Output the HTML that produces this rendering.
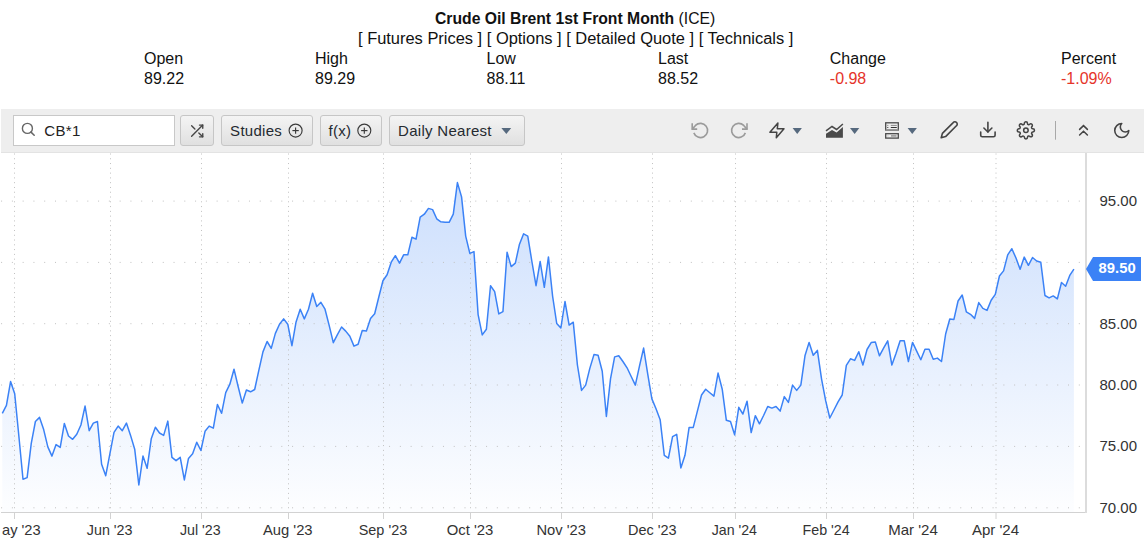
<!DOCTYPE html>
<html><head><meta charset="utf-8">
<style>
*{box-sizing:border-box}
html,body{margin:0;padding:0;background:#fff;width:1144px;height:542px;overflow:hidden;font-family:"Liberation Sans",sans-serif;color:#111}
.t{position:absolute;white-space:nowrap;font-size:16px;line-height:20px}
.b{font-weight:bold}
.red{color:#e5342a}
#tb{position:absolute;left:1px;top:109px;width:1143px;height:44px;background:#eeeeee;border-bottom:1px solid #e3e3e3}
.btn{position:absolute;top:115px;height:31px;border:1px solid #c6c6c6;border-radius:3px;background:linear-gradient(#f4f4f4,#e0e0e0);font-size:15px;letter-spacing:0.28px;line-height:29.5px;color:#252a30;white-space:nowrap}
.ax{font-family:"Liberation Sans",sans-serif;font-size:15px;fill:#333}
.pl{font-family:"Liberation Sans",sans-serif;font-size:14.8px;font-weight:bold;fill:#fff}
svg{display:block}
.ic{position:absolute;left:0;top:0;overflow:visible}
</style></head><body>
<div class="t" style="left:435.3px;top:8.5px;transform:scaleX(0.982);transform-origin:0 0"><span class="b">Crude Oil Brent 1st Front Month</span> (ICE)</div>
<div class="t" style="left:357.8px;top:29.2px;transform:scaleX(1.027);transform-origin:0 0">[ Futures Prices ] [ Options ] [ Detailed Quote ] [ Technicals ]</div>
<div class="t" style="left:144px;top:49.2px">Open</div>
<div class="t" style="left:315px;top:49.2px">High</div>
<div class="t" style="left:486.5px;top:49.2px">Low</div>
<div class="t" style="left:658px;top:49.2px">Last</div>
<div class="t" style="left:829.8px;top:49.2px">Change</div>
<div class="t" style="left:1061px;top:49.2px">Percent</div>
<div class="t" style="left:144px;top:68.6px">89.22</div>
<div class="t" style="left:315px;top:68.6px">89.29</div>
<div class="t" style="left:486.5px;top:68.6px">88.11</div>
<div class="t" style="left:658px;top:68.6px">88.52</div>
<div class="t red" style="left:829.8px;top:68.6px">-0.98</div>
<div class="t red" style="left:1061px;top:68.6px">-1.09%</div>

<div id="tb"></div>
<div style="position:absolute;left:13px;top:115px;width:162px;height:31px;background:#fff;border:1px solid #c8c8c8"></div>
<div class="t" style="left:44.3px;top:120.7px;font-size:15px;letter-spacing:0.35px;color:#222">CB*1</div>
<div class="btn" style="left:180px;width:34px"></div>
<div class="btn" style="left:220.5px;width:92px"><span style="position:absolute;left:8.6px">Studies</span></div>
<div class="btn" style="left:319.5px;width:62px"><span style="position:absolute;left:8px">f(x)</span></div>
<div class="btn" style="left:388.5px;width:136.5px"><span style="position:absolute;left:8.6px">Daily Nearest</span></div>

<svg class="ic" width="1144" height="160" viewBox="0 0 1144 160">
<!-- search -->
<circle cx="27.4" cy="128.4" r="5" fill="none" stroke="#666" stroke-width="1.4"/>
<line x1="31" y1="132.1" x2="34.2" y2="135.3" stroke="#666" stroke-width="1.5" stroke-linecap="round"/>
<!-- shuffle -->
<g transform="translate(189,123.1) scale(0.655)" fill="none" stroke="#454545" stroke-width="2.1" stroke-linecap="round" stroke-linejoin="round"><polyline points="16 3 21 3 21 8"/><line x1="4" y1="20" x2="21" y2="3"/><polyline points="21 16 21 21 16 21"/><line x1="15" y1="15" x2="21" y2="21"/><line x1="4" y1="4" x2="9" y2="9"/></g>
<!-- plus circles -->
<g fill="none" stroke="#3a3a3a" stroke-width="1.15"><circle cx="295.6" cy="130.6" r="6.5"/><line x1="295.6" y1="127.4" x2="295.6" y2="133.8"/><line x1="292.4" y1="130.6" x2="298.8" y2="130.6"/>
<circle cx="364.3" cy="130.6" r="6.5"/><line x1="364.3" y1="127.4" x2="364.3" y2="133.8"/><line x1="361.1" y1="130.6" x2="367.5" y2="130.6"/></g>
<!-- dropdown triangles -->
<g fill="#56697e"><path d="M501.4,128 L511.2,128 L506.3,134 Z"/><path d="M792.6,128.1 L801.9,128.1 L797.25,134.1 Z"/><path d="M850,128.1 L859.3,128.1 L854.65,133.9 Z"/><path d="M907.6,128.1 L916.9,128.1 L912.25,133.9 Z"/></g>
<!-- undo / redo -->
<g fill="none" stroke="#9b9b9b" stroke-width="1.6" stroke-linejoin="miter">
<path d="M693.83,132.88 A7.1,7.1 0 1 0 695.48,125.43 L692.2,129.1"/><path d="M692.2,123.3 L692.2,129.1 L697.2,129.1"/>
<path d="M745.37,132.88 A7.1,7.1 0 1 1 743.72,125.43 L747,129.1"/><path d="M747,123.3 L747,129.1 L742,129.1"/>
</g>
<!-- lightning -->
<path d="M777.9,122.9 L769.9,132.2 L776.8,132.2 L776.3,137.8 L784,128.7 L777.3,128.7 Z" fill="none" stroke="#444" stroke-width="1.5" stroke-linejoin="round"/>
<!-- area chart icon -->
<path d="M826,137.8 L826,133.8 L832,129.9 L836.6,132.6 L842.9,127.1 L842.9,137.8 Z" fill="#4a4a4a"/>
<path d="M826,130.8 L832,126.5 L836.6,129.5 L842.9,124" fill="none" stroke="#4a4a4a" stroke-width="1.5"/>
<!-- layout icon -->
<rect x="885.7" y="122.8" width="12.6" height="7.2" fill="none" stroke="#4a4a4a" stroke-width="1.3"/>
<line x1="885.7" y1="129.8" x2="898.3" y2="129.8" stroke="#999" stroke-width="1.4"/>
<rect x="885.7" y="133.7" width="12.6" height="4.4" fill="none" stroke="#4a4a4a" stroke-width="1.3"/>
<g stroke-width="1"><line x1="887.3" y1="125.4" x2="888.3" y2="125.4" stroke="#777"/><line x1="890.8" y1="125.4" x2="896.8" y2="125.4" stroke="#888"/><line x1="887.3" y1="127.5" x2="888.3" y2="127.5" stroke="#333"/><line x1="890.8" y1="127.5" x2="896.8" y2="127.5" stroke="#333"/><line x1="887.6" y1="135.9" x2="888.3" y2="135.9" stroke="#999"/><line x1="891" y1="135.9" x2="896.5" y2="135.9" stroke="#9a9a9a" stroke-width="1.6"/></g>
<!-- pencil -->
<g transform="translate(939.6,120.2) scale(0.8)" fill="none" stroke="#444" stroke-width="2" stroke-linecap="round" stroke-linejoin="round"><path d="M17 3a2.85 2.83 0 1 1 4 4L7.5 20.5 2 22l1.5-5.5Z"/></g>
<!-- download -->
<g transform="translate(978.3,120) scale(0.8)" fill="none" stroke="#444" stroke-width="2" stroke-linecap="round" stroke-linejoin="round"><path d="M21 15v4a2 2 0 0 1-2 2H5a2 2 0 0 1-2-2v-4"/><polyline points="7 10 12 15 17 10"/><line x1="12" y1="15" x2="12" y2="3"/></g>
<!-- gear -->
<g transform="translate(1016.54,120.99) scale(0.78)" fill="none" stroke="#444" stroke-width="1.95" stroke-linecap="round" stroke-linejoin="round"><path d="M19.4 15a1.65 1.65 0 0 0 .33 1.82l.06.06a2 2 0 0 1 0 2.83 2 2 0 0 1-2.83 0l-.06-.06a1.65 1.65 0 0 0-1.82-.33 1.65 1.65 0 0 0-1 1.51V21a2 2 0 0 1-2 2 2 2 0 0 1-2-2v-.09A1.65 1.65 0 0 0 9 19.4a1.65 1.65 0 0 0-1.82.33l-.06.06a2 2 0 0 1-2.83 0 2 2 0 0 1 0-2.83l.06-.06a1.65 1.65 0 0 0 .33-1.82 1.65 1.65 0 0 0-1.51-1H3a2 2 0 0 1-2-2 2 2 0 0 1 2-2h.09A1.65 1.65 0 0 0 4.6 9a1.65 1.65 0 0 0-.33-1.82l-.06-.06a2 2 0 0 1 0-2.83 2 2 0 0 1 2.83 0l.06.06a1.65 1.65 0 0 0 1.82.33H9a1.65 1.65 0 0 0 1-1.51V3a2 2 0 0 1 2-2 2 2 0 0 1 2 2v.09a1.65 1.65 0 0 0 1 1.51 1.65 1.65 0 0 0 1.82-.33l.06-.06a2 2 0 0 1 2.83 0 2 2 0 0 1 0 2.83l-.06.06a1.65 1.65 0 0 0-.33 1.82V9a1.65 1.65 0 0 0 1.51 1H21a2 2 0 0 1 2 2 2 2 0 0 1-2 2h-.09a1.65 1.65 0 0 0-1.51 1z"/><circle cx="12" cy="12" r="2.9"/></g>
<!-- separator -->
<line x1="1055.5" y1="121" x2="1055.5" y2="139.7" stroke="#a8a8a8" stroke-width="1"/>
<!-- chevrons -->
<g fill="none" stroke="#444" stroke-width="1.5" stroke-linecap="round" stroke-linejoin="miter"><polyline points="1079.6,129.4 1083.5,125.6 1087.4,129.4"/><polyline points="1079.6,135 1083.5,131.2 1087.4,135"/></g>
<!-- moon -->
<g transform="translate(1112.4,121.2) scale(0.78)" fill="none" stroke="#444" stroke-width="2" stroke-linecap="round" stroke-linejoin="round"><path d="M12 3a6 6 0 0 0 9 9 9 9 0 1 1-9-9Z"/></g>
</svg>

<svg width="1144" height="389" viewBox="0 153 1144 389" style="position:absolute;left:0;top:153px">
<defs><linearGradient id="g" x1="0" y1="180" x2="0" y2="505" gradientUnits="userSpaceOnUse"><stop offset="0" stop-color="#3b82f6" stop-opacity="0.26"/><stop offset="1" stop-color="#3b82f6" stop-opacity="0.015"/></linearGradient></defs>
<path d="M2.30,413.4 L6.44,405.4 L10.57,381.6 L14.71,393.8 L18.85,436.0 L22.99,479.2 L27.12,477.6 L31.26,443.4 L35.40,421.5 L39.54,417.4 L43.67,429.6 L47.81,446.9 L51.95,456.1 L56.09,444.6 L60.22,447.4 L64.36,423.4 L68.50,436.0 L72.64,439.3 L76.77,434.2 L80.91,425.0 L85.05,406.1 L89.19,430.7 L93.32,423.1 L97.46,421.5 L101.60,464.2 L105.74,475.7 L109.87,453.8 L114.01,432.4 L118.15,426.1 L122.29,430.7 L126.42,423.1 L130.56,435.4 L134.70,449.2 L138.84,485.0 L142.97,456.1 L147.11,468.3 L151.25,438.8 L155.39,427.3 L159.52,433.0 L163.66,435.4 L167.80,421.1 L171.94,457.3 L176.07,460.7 L180.21,457.3 L184.35,479.9 L188.49,458.4 L192.62,453.8 L196.76,442.3 L200.90,450.5 L205.04,431.3 L209.17,426.1 L213.31,428.1 L217.45,404.5 L221.58,413.3 L225.72,392.7 L229.86,384.2 L234.00,369.2 L238.13,386.5 L242.27,403.1 L246.41,390.0 L250.55,391.8 L254.68,389.5 L258.82,370.4 L262.96,351.9 L267.10,341.5 L271.23,348.4 L275.37,333.4 L279.51,324.2 L283.65,318.9 L287.78,324.2 L291.92,345.7 L296.06,321.9 L300.20,309.2 L304.33,318.9 L308.47,309.2 L312.61,293.2 L316.75,306.5 L320.88,302.3 L325.02,309.2 L329.16,325.4 L333.30,342.7 L337.43,334.6 L341.57,327.0 L345.71,331.1 L349.85,336.2 L353.98,346.1 L358.12,344.3 L362.26,330.5 L366.40,331.1 L370.53,318.5 L374.67,313.8 L378.81,297.0 L382.95,280.7 L387.08,274.7 L391.22,262.2 L395.36,255.7 L399.50,263.1 L403.63,254.8 L407.77,254.8 L411.91,237.3 L416.05,239.1 L420.18,217.2 L424.32,214.2 L428.46,208.4 L432.59,209.6 L436.73,218.8 L440.87,221.8 L445.01,222.3 L449.14,222.3 L453.28,214.2 L457.42,182.6 L461.56,196.9 L465.69,236.1 L469.83,253.4 L473.97,251.6 L478.11,314.6 L482.24,334.9 L486.38,329.3 L490.52,285.7 L494.66,291.6 L498.79,313.9 L502.93,311.7 L507.07,252.3 L511.21,266.6 L515.34,263.1 L519.48,244.2 L523.62,233.8 L527.76,236.1 L531.89,261.5 L536.03,285.7 L540.17,261.5 L544.31,287.3 L548.44,256.9 L552.58,296.0 L556.72,323.5 L560.86,328.0 L564.99,301.5 L569.13,325.1 L573.27,322.2 L577.41,365.0 L581.54,390.4 L585.68,385.1 L589.82,368.4 L593.96,354.6 L598.09,355.3 L602.23,371.2 L606.37,416.4 L610.51,378.8 L614.64,356.9 L618.78,355.8 L622.92,361.5 L627.06,367.8 L631.19,376.5 L635.33,385.1 L639.47,366.1 L643.61,348.1 L647.74,374.2 L651.88,398.9 L656.02,408.8 L660.15,419.7 L664.29,455.3 L668.43,458.1 L672.57,436.7 L676.70,434.3 L680.84,468.0 L684.98,455.3 L689.12,427.4 L693.25,427.4 L697.39,411.1 L701.53,395.0 L705.67,389.2 L709.80,392.7 L713.94,396.1 L718.08,373.1 L722.22,389.2 L726.35,420.3 L730.49,421.5 L734.63,434.9 L738.77,407.3 L742.90,414.0 L747.04,401.2 L751.18,432.6 L755.32,415.7 L759.45,423.8 L763.59,415.5 L767.73,406.5 L771.87,408.1 L776.00,406.5 L780.14,411.1 L784.28,396.6 L788.42,402.4 L792.55,385.1 L796.69,390.4 L800.83,385.1 L804.97,355.8 L809.10,342.4 L813.24,355.3 L817.38,350.4 L821.52,378.8 L825.65,400.7 L829.79,418.0 L833.93,410.0 L838.07,401.9 L842.20,395.0 L846.34,365.4 L850.48,358.8 L854.62,360.4 L858.75,351.8 L862.89,365.0 L867.03,349.5 L871.16,342.6 L875.30,341.9 L879.44,355.8 L883.58,348.1 L887.71,340.8 L891.85,365.0 L895.99,353.4 L900.13,340.8 L904.26,340.8 L908.40,361.5 L912.54,342.4 L916.68,351.1 L920.81,359.7 L924.95,349.3 L929.09,349.3 L933.23,359.2 L937.36,358.1 L941.50,361.5 L945.64,334.0 L949.78,319.0 L953.91,319.4 L958.05,301.0 L962.19,295.0 L966.33,311.8 L970.46,314.3 L974.60,318.4 L978.74,302.6 L982.88,308.4 L987.01,310.4 L991.15,300.2 L995.29,294.4 L999.43,276.0 L1003.56,270.9 L1007.70,254.9 L1011.84,248.7 L1015.98,258.0 L1020.11,269.2 L1024.25,257.1 L1028.39,265.3 L1032.53,257.5 L1036.66,261.0 L1040.80,262.3 L1044.94,295.5 L1049.08,297.9 L1053.21,295.9 L1057.35,298.9 L1061.49,282.5 L1065.63,286.2 L1069.76,275.4 L1073.90,269.2 L1073.90,512 L2.30,512 Z" fill="url(#g)"/>
<line x1="14.5" y1="153.5" x2="14.5" y2="509" stroke="#c0c0c0" stroke-width="1" stroke-dasharray="1 3.78"/>
<line x1="110.5" y1="153.5" x2="110.5" y2="509" stroke="#c0c0c0" stroke-width="1" stroke-dasharray="1 3.78"/>
<line x1="201.5" y1="153.5" x2="201.5" y2="509" stroke="#c0c0c0" stroke-width="1" stroke-dasharray="1 3.78"/>
<line x1="288.5" y1="153.5" x2="288.5" y2="509" stroke="#c0c0c0" stroke-width="1" stroke-dasharray="1 3.78"/>
<line x1="383.5" y1="153.5" x2="383.5" y2="509" stroke="#c0c0c0" stroke-width="1" stroke-dasharray="1 3.78"/>
<line x1="470.5" y1="153.5" x2="470.5" y2="509" stroke="#c0c0c0" stroke-width="1" stroke-dasharray="1 3.78"/>
<line x1="561.5" y1="153.5" x2="561.5" y2="509" stroke="#c0c0c0" stroke-width="1" stroke-dasharray="1 3.78"/>
<line x1="652.5" y1="153.5" x2="652.5" y2="509" stroke="#c0c0c0" stroke-width="1" stroke-dasharray="1 3.78"/>
<line x1="735.5" y1="153.5" x2="735.5" y2="509" stroke="#c0c0c0" stroke-width="1" stroke-dasharray="1 3.78"/>
<line x1="826.5" y1="153.5" x2="826.5" y2="509" stroke="#c0c0c0" stroke-width="1" stroke-dasharray="1 3.78"/>
<line x1="913.5" y1="153.5" x2="913.5" y2="509" stroke="#c0c0c0" stroke-width="1" stroke-dasharray="1 3.78"/>
<line x1="996.0" y1="153.5" x2="996.0" y2="509" stroke="#c0c0c0" stroke-width="1" stroke-dasharray="1 3.78"/>
<line x1="1.1" y1="201.1" x2="1085" y2="201.1" stroke="#c0c0c0" stroke-width="1" stroke-dasharray="1 9.777"/>
<line x1="1.1" y1="262.4" x2="1085" y2="262.4" stroke="#c0c0c0" stroke-width="1" stroke-dasharray="1 9.777"/>
<line x1="1.1" y1="323.7" x2="1085" y2="323.7" stroke="#c0c0c0" stroke-width="1" stroke-dasharray="1 9.777"/>
<line x1="1.1" y1="385.0" x2="1085" y2="385.0" stroke="#c0c0c0" stroke-width="1" stroke-dasharray="1 9.777"/>
<line x1="1.1" y1="446.4" x2="1085" y2="446.4" stroke="#c0c0c0" stroke-width="1" stroke-dasharray="1 9.777"/>
<line x1="1.1" y1="507.8" x2="1085" y2="507.8" stroke="#c0c0c0" stroke-width="1" stroke-dasharray="1 9.777"/>
<path d="M2.30,413.4 L6.44,405.4 L10.57,381.6 L14.71,393.8 L18.85,436.0 L22.99,479.2 L27.12,477.6 L31.26,443.4 L35.40,421.5 L39.54,417.4 L43.67,429.6 L47.81,446.9 L51.95,456.1 L56.09,444.6 L60.22,447.4 L64.36,423.4 L68.50,436.0 L72.64,439.3 L76.77,434.2 L80.91,425.0 L85.05,406.1 L89.19,430.7 L93.32,423.1 L97.46,421.5 L101.60,464.2 L105.74,475.7 L109.87,453.8 L114.01,432.4 L118.15,426.1 L122.29,430.7 L126.42,423.1 L130.56,435.4 L134.70,449.2 L138.84,485.0 L142.97,456.1 L147.11,468.3 L151.25,438.8 L155.39,427.3 L159.52,433.0 L163.66,435.4 L167.80,421.1 L171.94,457.3 L176.07,460.7 L180.21,457.3 L184.35,479.9 L188.49,458.4 L192.62,453.8 L196.76,442.3 L200.90,450.5 L205.04,431.3 L209.17,426.1 L213.31,428.1 L217.45,404.5 L221.58,413.3 L225.72,392.7 L229.86,384.2 L234.00,369.2 L238.13,386.5 L242.27,403.1 L246.41,390.0 L250.55,391.8 L254.68,389.5 L258.82,370.4 L262.96,351.9 L267.10,341.5 L271.23,348.4 L275.37,333.4 L279.51,324.2 L283.65,318.9 L287.78,324.2 L291.92,345.7 L296.06,321.9 L300.20,309.2 L304.33,318.9 L308.47,309.2 L312.61,293.2 L316.75,306.5 L320.88,302.3 L325.02,309.2 L329.16,325.4 L333.30,342.7 L337.43,334.6 L341.57,327.0 L345.71,331.1 L349.85,336.2 L353.98,346.1 L358.12,344.3 L362.26,330.5 L366.40,331.1 L370.53,318.5 L374.67,313.8 L378.81,297.0 L382.95,280.7 L387.08,274.7 L391.22,262.2 L395.36,255.7 L399.50,263.1 L403.63,254.8 L407.77,254.8 L411.91,237.3 L416.05,239.1 L420.18,217.2 L424.32,214.2 L428.46,208.4 L432.59,209.6 L436.73,218.8 L440.87,221.8 L445.01,222.3 L449.14,222.3 L453.28,214.2 L457.42,182.6 L461.56,196.9 L465.69,236.1 L469.83,253.4 L473.97,251.6 L478.11,314.6 L482.24,334.9 L486.38,329.3 L490.52,285.7 L494.66,291.6 L498.79,313.9 L502.93,311.7 L507.07,252.3 L511.21,266.6 L515.34,263.1 L519.48,244.2 L523.62,233.8 L527.76,236.1 L531.89,261.5 L536.03,285.7 L540.17,261.5 L544.31,287.3 L548.44,256.9 L552.58,296.0 L556.72,323.5 L560.86,328.0 L564.99,301.5 L569.13,325.1 L573.27,322.2 L577.41,365.0 L581.54,390.4 L585.68,385.1 L589.82,368.4 L593.96,354.6 L598.09,355.3 L602.23,371.2 L606.37,416.4 L610.51,378.8 L614.64,356.9 L618.78,355.8 L622.92,361.5 L627.06,367.8 L631.19,376.5 L635.33,385.1 L639.47,366.1 L643.61,348.1 L647.74,374.2 L651.88,398.9 L656.02,408.8 L660.15,419.7 L664.29,455.3 L668.43,458.1 L672.57,436.7 L676.70,434.3 L680.84,468.0 L684.98,455.3 L689.12,427.4 L693.25,427.4 L697.39,411.1 L701.53,395.0 L705.67,389.2 L709.80,392.7 L713.94,396.1 L718.08,373.1 L722.22,389.2 L726.35,420.3 L730.49,421.5 L734.63,434.9 L738.77,407.3 L742.90,414.0 L747.04,401.2 L751.18,432.6 L755.32,415.7 L759.45,423.8 L763.59,415.5 L767.73,406.5 L771.87,408.1 L776.00,406.5 L780.14,411.1 L784.28,396.6 L788.42,402.4 L792.55,385.1 L796.69,390.4 L800.83,385.1 L804.97,355.8 L809.10,342.4 L813.24,355.3 L817.38,350.4 L821.52,378.8 L825.65,400.7 L829.79,418.0 L833.93,410.0 L838.07,401.9 L842.20,395.0 L846.34,365.4 L850.48,358.8 L854.62,360.4 L858.75,351.8 L862.89,365.0 L867.03,349.5 L871.16,342.6 L875.30,341.9 L879.44,355.8 L883.58,348.1 L887.71,340.8 L891.85,365.0 L895.99,353.4 L900.13,340.8 L904.26,340.8 L908.40,361.5 L912.54,342.4 L916.68,351.1 L920.81,359.7 L924.95,349.3 L929.09,349.3 L933.23,359.2 L937.36,358.1 L941.50,361.5 L945.64,334.0 L949.78,319.0 L953.91,319.4 L958.05,301.0 L962.19,295.0 L966.33,311.8 L970.46,314.3 L974.60,318.4 L978.74,302.6 L982.88,308.4 L987.01,310.4 L991.15,300.2 L995.29,294.4 L999.43,276.0 L1003.56,270.9 L1007.70,254.9 L1011.84,248.7 L1015.98,258.0 L1020.11,269.2 L1024.25,257.1 L1028.39,265.3 L1032.53,257.5 L1036.66,261.0 L1040.80,262.3 L1044.94,295.5 L1049.08,297.9 L1053.21,295.9 L1057.35,298.9 L1061.49,282.5 L1065.63,286.2 L1069.76,275.4 L1073.90,269.2" fill="none" stroke="#3b82f6" stroke-width="1.5" stroke-linejoin="round"/>
<line x1="1" y1="512.5" x2="1086" y2="512.5" stroke="#d2d2d2" stroke-width="1"/>
<line x1="1086" y1="153" x2="1086" y2="513" stroke="#dcdcdc" stroke-width="2"/>
<line x1="14.5" y1="513" x2="14.5" y2="519" stroke="#d2d2d2" stroke-width="1"/>
<text x="2.0" y="534.9" textLength="38.7" lengthAdjust="spacingAndGlyphs" class="ax">ay '23</text>
<line x1="110.5" y1="513" x2="110.5" y2="519" stroke="#d2d2d2" stroke-width="1"/>
<text x="86.8" y="534.9" textLength="45.7" lengthAdjust="spacingAndGlyphs" class="ax">Jun '23</text>
<line x1="201.5" y1="513" x2="201.5" y2="519" stroke="#d2d2d2" stroke-width="1"/>
<text x="179.9" y="534.9" textLength="40.7" lengthAdjust="spacingAndGlyphs" class="ax">Jul '23</text>
<line x1="288.5" y1="513" x2="288.5" y2="519" stroke="#d2d2d2" stroke-width="1"/>
<text x="262.9" y="534.9" textLength="49.7" lengthAdjust="spacingAndGlyphs" class="ax">Aug '23</text>
<line x1="383.5" y1="513" x2="383.5" y2="519" stroke="#d2d2d2" stroke-width="1"/>
<text x="358.7" y="534.9" textLength="48.5" lengthAdjust="spacingAndGlyphs" class="ax">Sep '23</text>
<line x1="470.5" y1="513" x2="470.5" y2="519" stroke="#d2d2d2" stroke-width="1"/>
<text x="446.7" y="534.9" textLength="46.6" lengthAdjust="spacingAndGlyphs" class="ax">Oct '23</text>
<line x1="561.5" y1="513" x2="561.5" y2="519" stroke="#d2d2d2" stroke-width="1"/>
<text x="536.4" y="534.9" textLength="49.5" lengthAdjust="spacingAndGlyphs" class="ax">Nov '23</text>
<line x1="652.5" y1="513" x2="652.5" y2="519" stroke="#d2d2d2" stroke-width="1"/>
<text x="628.0" y="534.9" textLength="48.6" lengthAdjust="spacingAndGlyphs" class="ax">Dec '23</text>
<line x1="735.5" y1="513" x2="735.5" y2="519" stroke="#d2d2d2" stroke-width="1"/>
<text x="711.7" y="534.9" textLength="45.3" lengthAdjust="spacingAndGlyphs" class="ax">Jan '24</text>
<line x1="826.5" y1="513" x2="826.5" y2="519" stroke="#d2d2d2" stroke-width="1"/>
<text x="802.5" y="534.9" textLength="47.2" lengthAdjust="spacingAndGlyphs" class="ax">Feb '24</text>
<line x1="913.5" y1="513" x2="913.5" y2="519" stroke="#d2d2d2" stroke-width="1"/>
<text x="888.2" y="534.9" textLength="49.6" lengthAdjust="spacingAndGlyphs" class="ax">Mar '24</text>
<line x1="996.0" y1="513" x2="996.0" y2="519" stroke="#d2d2d2" stroke-width="1"/>
<text x="971.9" y="534.9" textLength="47.2" lengthAdjust="spacingAndGlyphs" class="ax">Apr '24</text>
<text x="1099.5" y="206.0" class="ax">95.00</text>
<text x="1099.5" y="267.3" class="ax">90.00</text>
<text x="1099.5" y="328.6" class="ax">85.00</text>
<text x="1099.5" y="389.9" class="ax">80.00</text>
<text x="1099.5" y="451.3" class="ax">75.00</text>
<text x="1099.5" y="512.7" class="ax">70.00</text>
<path d="M1086,269 L1093,257 L1141,257 L1141,281 L1093,281 Z" fill="#3b82f6"/>
<text x="1098.6" y="273.2" class="pl">89.50</text>
</svg>
</body></html>
